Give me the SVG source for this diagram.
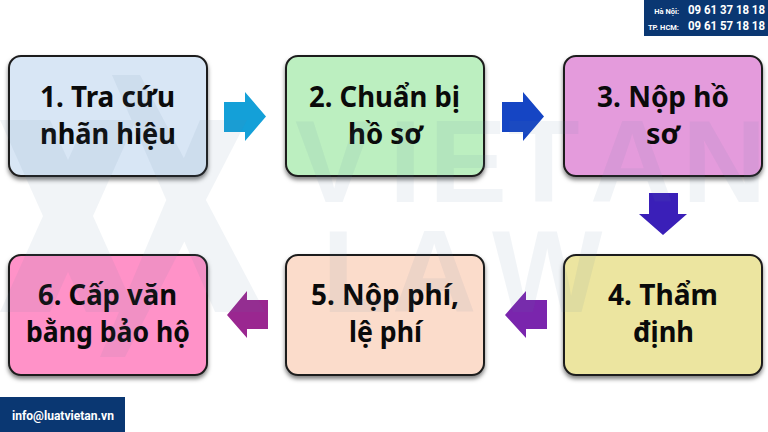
<svg xmlns="http://www.w3.org/2000/svg" width="768" height="432" viewBox="0 0 768 432">
<defs>
<filter id="sh" x="-10%" y="-10%" width="120%" height="125%"><feDropShadow dx="0" dy="3" stdDeviation="2.2" flood-color="#000" flood-opacity=".5"/></filter>
<style>
.box{stroke:#1c1c1c;stroke-width:2;filter:url(#sh)}
.t{font:700 29px "Noto Sans","Open Sans",sans-serif;fill:#0a0a0a;text-anchor:middle}
.wm{font:700 117px "Liberation Sans",sans-serif;fill:#5f7f9f;fill-opacity:.085}
.h{font-family:Roboto,"Liberation Sans",sans-serif;font-weight:700;fill:#fff}
.n{font-size:12px}
.l{font-size:7.500px;text-anchor:end}
</style>
</defs>
<rect width="768" height="432" fill="#fff"/>
<g id="nodes">
<g id="n1"><rect class="box" x="9" y="56" width="198" height="120" rx="12" fill="#d8e6f5"/><text class="t" x="107.500" y="107" textLength="135" lengthAdjust="spacingAndGlyphs">1. Tra cứu</text><text class="t" x="108" y="144" textLength="136" lengthAdjust="spacingAndGlyphs">nhãn hiệu</text></g>
<g id="n2"><rect class="box" x="286" y="56" width="198" height="120" rx="12" fill="#bcefc0"/><text class="t" x="384.500" y="107" textLength="151" lengthAdjust="spacingAndGlyphs">2. Chuẩn bị</text><text class="t" x="385.500" y="144" textLength="75" lengthAdjust="spacingAndGlyphs">hồ sơ</text></g>
<g id="n3"><rect class="box" x="564" y="56" width="198" height="120" rx="12" fill="#e49bdc"/><text class="t" x="663" y="107" textLength="132" lengthAdjust="spacingAndGlyphs">3. Nộp hồ</text><text class="t" x="663" y="144" textLength="34" lengthAdjust="spacingAndGlyphs">sơ</text></g>
<g id="n4"><rect class="box" x="564" y="255" width="198" height="120" rx="12" fill="#ece5a0"/><text class="t" x="663" y="305" textLength="110" lengthAdjust="spacingAndGlyphs">4. Thẩm</text><text class="t" x="663.500" y="342" textLength="61" lengthAdjust="spacingAndGlyphs">định</text></g>
<g id="n5"><rect class="box" x="286" y="255" width="198" height="120" rx="12" fill="#fbdccb"/><text class="t" x="385" y="305" textLength="148" lengthAdjust="spacingAndGlyphs">5. Nộp phí,</text><text class="t" x="385.500" y="342" textLength="73" lengthAdjust="spacingAndGlyphs">lệ phí</text></g>
<g id="n6"><rect class="box" x="9" y="255" width="198" height="120" rx="12" fill="#ff92c8"/><text class="t" x="107.500" y="305" textLength="139" lengthAdjust="spacingAndGlyphs">6. Cấp văn</text><text class="t" x="108" y="342" textLength="164" lengthAdjust="spacingAndGlyphs">bằng bảo hộ</text></g>
</g>
<g id="connectors">
<polygon fill="#14a0d8" points="224,102 245,102 245,92 266,116.500 245,141 245,132 224,132"/>
<polygon fill="#1545c4" points="502,102 523,102 523,92 544,116.500 523,141 523,132 502,132"/>
<polygon fill="#3a1fb8" points="649,193 678,193 678,214 687,214 663,235 639,214 649,214"/>
<polygon fill="#7a25ad" points="547,300 526,300 526,291 505,315 526,338 526,329 547,329"/>
<polygon fill="#9a2790" points="268,300 247,300 247,291 227,315 247,338 247,329 268,329"/>
</g>
<g id="watermark">
<text class="wm" x="295 389 429 508 590 682" y="202">VIETAN</text>
<text class="wm" x="322 392 492" y="312">LAW</text>
<path fill="#5f7f9f" fill-opacity=".085" fill-rule="nonzero" d="M0 120H50L136 312H86ZM86 120H136L50 312H0ZM112 75H140L265 312H215ZM200 120H247L125 357H100Z"/>
</g>
<g id="hotline"><rect x="644" y="0" width="124" height="36" fill="#0a3772"/>
<text x="679" y="14" class="h l">Hà Nội:</text><text x="679" y="30" class="h l">TP. HCM:</text>
<text x="688" y="14" class="h n" textLength="77" lengthAdjust="spacingAndGlyphs">09 61 37 18 18</text><text x="688" y="30" class="h n" textLength="77" lengthAdjust="spacingAndGlyphs">09 61 57 18 18</text></g>
<g id="email"><rect x="0" y="397" width="125" height="35" fill="#0a3772"/><text x="12" y="420" class="h" style="font-size:13px" textLength="102" lengthAdjust="spacingAndGlyphs">info@luatvietan.vn</text></g>
</svg>
